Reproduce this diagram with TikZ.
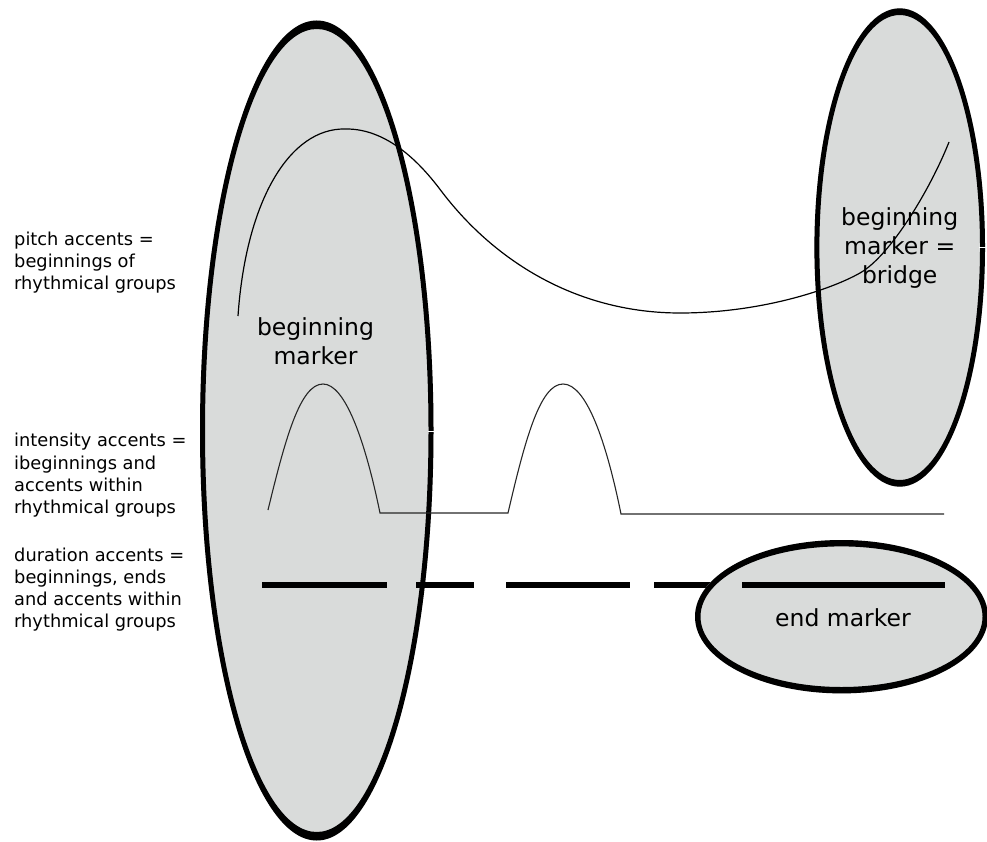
\documentclass[tikz,border=0pt]{standalone}
\usepackage{fontspec}
\setmainfont{DejaVu Sans}
\definecolor{markerfill}{RGB}{217,219,218}
\begin{document}
\begin{tikzpicture}[x=1pt,y=-1pt,
  sidelabel/.style={anchor=west,align=left,inner sep=0pt,
    font=\fontsize{17.8}{22.2}\selectfont},
  markertext/.style={align=center,inner sep=0pt,
    font=\fontsize{23.5}{29}\selectfont},
  ring/.style={fill=black,even odd rule},
  pitchline/.style={line width=1.2pt,black},
  intline/.style={line width=1.1pt,black!85},
  durdash/.style={line width=6pt,black,line cap=butt},
  gap/.style={white,line width=1.4pt}]
\useasboundingbox (0,0) rectangle (987,842);

% accent descriptions
\node[sidelabel] (pitch) at (14,262.4) {pitch accents =\\beginnings of\\rhythmical groups};
\node[sidelabel] (intensity) at (14,475.2) {intensity accents =\\ibeginnings and\\accents within\\rhythmical groups};
\node[sidelabel] (duration) at (14,589.5) {duration accents =\\beginnings, ends\\and accents within\\rhythmical groups};

% marker regions: grey fill, then a black ring (thicker at the poles)
\fill[markerfill] (316.75,430.5) ellipse [x radius=116.75, y radius=410];
\fill[markerfill] (899.7,247.5) ellipse [x radius=85.3, y radius=239.2];
\fill[ring] (316.75,430.5) ellipse [x radius=116.75, y radius=410]
            (316.75,430.5) ellipse [x radius=111.75, y radius=401.5];
\fill[ring] (899.7,247.5) ellipse [x radius=85.3, y radius=239.2]
            (899.7,247.5) ellipse [x radius=80.3, y radius=232.5];

\node[markertext] (begin) at (315.5,341) {beginning\\marker};
\node[markertext] (bridge) at (899.7,248.3) {beginning\\marker =\\bridge};

% pitch contour
\draw[pitchline] (238,316) .. controls (246,200) and (290,128) .. (345,129)
  .. controls (392,128) and (427,172) .. (442,192)
  .. controls (497,264) and (580,313) .. (680,313)
  .. controls (760,313) and (830,290) .. (860,273)
  .. controls (890,256) and (930,190) .. (949,142);

% intensity contour
\draw[intline] (268,510) .. controls (285,440) and (300,384) .. (323,384)
  .. controls (345,384) and (365,440) .. (380,513) -- (508,513)
  .. controls (525,440) and (540,384) .. (563,384)
  .. controls (586,384) and (606,440) .. (621,514) -- (944,514);

% duration pattern
\draw[durdash] (262,585) -- (387,585);
\draw[durdash] (416,585) -- (474,585);
\draw[durdash] (506,585) -- (630,585);
\draw[durdash] (654,585) -- (720,585);

% end marker
\fill[markerfill] (841.5,616.7) ellipse [x radius=146.5, y radius=76.7];
\fill[ring] (841.5,616.7) ellipse [x radius=146.5, y radius=76.7]
            (841.5,616.7) ellipse [x radius=141, y radius=70.3];
\node[markertext] (end) at (843,618) {end marker};
\draw[durdash] (742,585) -- (945,585);

% seams where the outlines start
\draw[gap] (428,431.5) -- (434,431.5);
\draw[gap] (979,247.5) -- (987,247.5);
\end{tikzpicture}
\end{document}
